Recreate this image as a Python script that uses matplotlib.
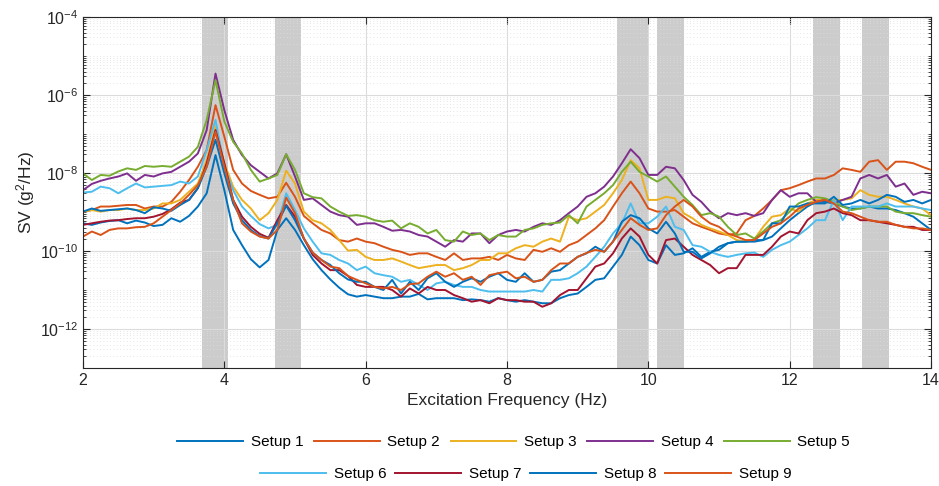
import numpy as np
import matplotlib
matplotlib.use("Agg")
import matplotlib.pyplot as plt
from matplotlib.ticker import FixedLocator, LogLocator, LogFormatterSciNotation, NullFormatter

plt.rcParams['font.family'] = ['Liberation Sans', 'DejaVu Sans']
plt.rcParams['mathtext.default'] = 'regular'

# frequency axis (Hz), 0.125 Hz steps from 2 to 14
freq = np.linspace(2, 14, 97)

# log10 of SV (g^2/Hz)
s1 = [-9.29, -9.33, -9.27, -9.23, -9.21, -9.29, -9.22, -9.27, -9.36, -9.33, -9.16, -9.25, -9.10, -8.86, -8.52, -7.54, -8.44, -9.46, -9.85, -10.21,
      -10.42, -10.23, -9.46, -9.16, -9.46, -9.85, -10.21, -10.49, -10.73, -10.94, -11.11, -11.17, -11.13, -11.17, -11.21, -11.21, -11.17, -11.17, -11.10,
      -11.24, -11.21, -11.21, -11.21, -11.26, -11.24, -11.26, -11.30, -11.21, -11.26, -11.30, -11.26, -11.30, -11.34, -11.34, -11.21, -11.13, -11.09, -10.92,
      -10.74, -10.70, -10.40, -10.10, -9.63, -9.85, -10.23, -10.32, -9.85, -10.10, -10.06, -9.93, -10.15, -10.02, -9.97, -9.80, -9.76, -9.76, -9.76,
      -9.72, -9.63, -9.42, -9.21, -9.03, -8.86, -8.74, -8.74, -8.78, -8.86, -8.91, -8.91, -8.86, -8.91, -8.91, -8.95, -9.03, -9.12, -9.29, -9.46]
s2 = [-8.99, -8.95, -8.86, -8.86, -8.84, -8.82, -8.82, -8.91, -8.86, -8.86, -8.74, -8.48, -8.18, -7.84, -7.41, -6.26, -7.07, -7.92, -8.27, -8.46,
      -8.56, -8.65, -8.61, -8.25, -8.61, -9.10, -9.29, -9.46, -9.55, -9.72, -9.76, -9.68, -9.76, -9.80, -9.89, -9.97, -10.02, -10.10, -10.06,
      -10.06, -10.15, -10.23, -10.06, -10.23, -10.19, -10.19, -10.15, -10.23, -10.10, -10.19, -10.23, -9.97, -10.02, -9.93, -10.02, -9.85, -9.76, -9.59,
      -9.42, -9.21, -8.86, -8.52, -8.22, -8.52, -8.91, -8.99, -8.99, -8.95, -9.12, -9.29, -9.38, -9.46, -9.55, -9.59, -9.55, -9.21, -9.10,
      -8.91, -8.69, -8.44, -8.39, -8.31, -8.22, -8.14, -8.14, -8.05, -7.88, -7.92, -7.97, -7.71, -7.67, -7.92, -7.71, -7.71, -7.75, -7.84, -7.92]
s3 = [-8.99, -8.95, -8.99, -8.95, -8.95, -8.91, -8.95, -8.95, -8.91, -8.78, -8.78, -8.69, -8.48, -8.27, -7.67, -6.81, -7.75, -8.35, -8.69, -8.91,
      -9.21, -9.03, -8.69, -7.94, -8.27, -8.99, -9.21, -9.29, -9.46, -9.72, -9.99, -9.97, -10.15, -10.23, -10.23, -10.19, -10.27, -10.36, -10.44,
      -10.40, -10.36, -10.36, -10.49, -10.44, -10.36, -10.23, -10.23, -10.06, -10.06, -9.93, -9.85, -9.89, -9.76, -9.68, -9.76, -9.12, -9.21, -9.16,
      -8.99, -8.82, -8.52, -8.18, -7.67, -7.88, -8.69, -8.69, -8.61, -8.65, -9.03, -9.16, -9.33, -9.42, -9.50, -9.59, -9.72, -9.76, -9.70,
      -9.38, -9.12, -9.08, -8.91, -8.99, -8.78, -8.69, -8.69, -8.69, -8.69, -8.65, -8.44, -8.56, -8.61, -8.61, -8.69, -8.78, -8.86, -8.91, -9.08]
s4 = [-8.44, -8.28, -8.20, -8.14, -8.09, -8.01, -8.20, -8.05, -8.09, -8.01, -7.97, -7.84, -7.71, -7.50, -6.90, -5.45, -6.39, -7.15, -7.54, -7.80,
      -7.97, -8.14, -8.01, -7.52, -8.09, -8.69, -8.65, -8.82, -8.99, -9.08, -9.12, -9.33, -9.29, -9.29, -9.38, -9.48, -9.46, -9.50, -9.59,
      -9.63, -9.76, -9.89, -9.72, -9.76, -9.55, -9.55, -9.80, -9.59, -9.50, -9.46, -9.50, -9.38, -9.29, -9.33, -9.21, -9.03, -8.86, -8.61,
      -8.52, -8.35, -8.09, -7.75, -7.39, -7.62, -8.05, -8.05, -7.84, -7.88, -8.18, -8.56, -8.74, -8.99, -9.16, -9.03, -9.08, -9.03, -9.10,
      -9.03, -8.69, -8.44, -8.61, -8.52, -8.52, -8.74, -8.69, -8.78, -8.69, -8.61, -8.14, -8.05, -8.14, -8.05, -8.35, -8.27, -8.56, -8.48, -8.52]
s5 = [-8.01, -8.18, -8.05, -8.07, -7.96, -7.88, -7.92, -7.82, -7.84, -7.82, -7.84, -7.71, -7.58, -7.33, -6.64, -5.62, -6.68, -7.20, -7.50, -7.92,
      -8.22, -8.14, -8.05, -7.52, -7.92, -8.52, -8.62, -8.65, -8.86, -8.99, -9.10, -9.08, -9.12, -9.21, -9.25, -9.22, -9.42, -9.29, -9.38,
      -9.55, -9.46, -9.72, -9.76, -9.50, -9.59, -9.55, -9.72, -9.59, -9.63, -9.63, -9.46, -9.42, -9.33, -9.29, -9.27, -9.08, -9.29, -8.86,
      -8.69, -8.52, -8.31, -7.97, -7.71, -7.97, -8.09, -8.22, -8.09, -8.35, -8.61, -8.82, -9.08, -9.03, -9.12, -9.38, -9.59, -9.55, -9.68,
      -9.50, -9.29, -9.21, -8.99, -8.78, -8.69, -8.62, -8.65, -8.74, -8.86, -8.95, -8.91, -8.86, -8.86, -8.86, -8.99, -9.03, -9.03, -9.08, -9.12]
s6 = [-8.50, -8.48, -8.35, -8.39, -8.52, -8.39, -8.27, -8.37, -8.35, -8.33, -8.31, -8.22, -8.27, -8.09, -7.41, -6.64, -7.84, -8.44, -8.86, -9.10,
      -9.31, -9.42, -9.33, -8.52, -8.95, -9.42, -9.76, -10.06, -10.10, -10.23, -10.32, -10.49, -10.40, -10.57, -10.62, -10.66, -10.79, -10.74, -10.87,
      -11.00, -10.83, -10.79, -10.87, -10.92, -10.92, -11.00, -11.04, -11.04, -11.04, -11.04, -11.04, -11.00, -11.04, -10.74, -10.74, -10.70, -10.57, -10.40,
      -10.15, -9.89, -9.55, -9.29, -8.78, -9.29, -9.29, -9.12, -8.86, -9.38, -9.46, -9.85, -9.89, -10.02, -10.10, -10.15, -10.10, -10.06, -10.04,
      -10.15, -9.97, -9.85, -9.76, -9.59, -9.42, -9.21, -9.21, -8.69, -9.21, -8.86, -8.86, -8.86, -8.86, -8.78, -8.86, -8.86, -8.86, -8.91, -8.95]
s7 = [-9.33, -9.29, -9.25, -9.22, -9.21, -9.18, -9.16, -9.16, -9.12, -9.05, -8.93, -8.76, -8.69, -8.39, -7.75, -6.90, -7.75, -8.69, -9.12, -9.38,
      -9.56, -9.66, -9.21, -8.82, -9.12, -9.68, -10.10, -10.32, -10.49, -10.49, -10.64, -10.87, -10.92, -10.92, -10.92, -11.00, -11.17, -10.96, -11.09,
      -10.92, -11.00, -11.00, -11.13, -11.21, -11.30, -11.26, -11.34, -11.21, -11.26, -11.26, -11.30, -11.30, -11.43, -11.34, -11.13, -11.00, -11.00, -10.70,
      -10.40, -10.32, -10.06, -9.68, -9.42, -9.63, -10.10, -10.32, -9.72, -9.68, -9.89, -10.10, -10.23, -10.36, -10.57, -10.44, -10.44, -10.10, -10.10,
      -10.10, -9.89, -9.63, -9.50, -9.55, -9.21, -9.03, -8.99, -8.91, -9.03, -9.08, -9.21, -9.21, -9.25, -9.29, -9.33, -9.38, -9.38, -9.46, -9.46]
s8 = [-8.99, -8.91, -8.97, -8.95, -8.93, -8.91, -8.95, -9.03, -8.88, -8.91, -8.97, -8.82, -8.69, -8.39, -7.84, -7.15, -8.01, -8.78, -9.21, -9.46,
      -9.62, -9.68, -9.29, -8.84, -9.21, -9.68, -10.04, -10.23, -10.36, -10.57, -10.73, -10.79, -10.79, -10.92, -11.00, -10.74, -11.09, -10.79, -11.00,
      -10.70, -10.57, -10.79, -10.92, -10.79, -10.70, -10.79, -10.66, -10.57, -10.74, -10.79, -10.57, -10.79, -10.74, -10.53, -10.49, -10.32, -10.15, -10.06,
      -9.89, -10.02, -9.76, -9.25, -9.08, -9.16, -9.42, -9.55, -9.25, -9.55, -10.02, -10.02, -10.19, -10.06, -9.89, -9.80, -9.76, -9.76, -9.72,
      -9.72, -9.29, -9.29, -8.86, -8.86, -8.78, -8.78, -8.78, -8.61, -8.82, -8.78, -8.69, -8.78, -8.69, -8.56, -8.61, -8.74, -8.69, -8.78, -8.69]
s9 = [-9.63, -9.50, -9.59, -9.46, -9.42, -9.42, -9.39, -9.38, -9.29, -9.12, -8.95, -8.78, -8.56, -8.31, -7.84, -6.94, -7.84, -8.69, -9.29, -9.50,
      -9.63, -9.68, -9.46, -8.63, -9.03, -9.68, -10.04, -10.23, -10.40, -10.44, -10.64, -10.74, -10.83, -10.92, -10.96, -10.92, -11.00, -10.85, -10.83,
      -10.66, -10.53, -10.66, -10.57, -10.74, -10.66, -10.87, -10.62, -10.57, -10.53, -10.70, -10.66, -10.79, -10.74, -10.49, -10.32, -10.32, -10.15, -10.05,
      -9.97, -10.02, -9.76, -9.46, -9.16, -9.33, -9.46, -9.42, -9.08, -8.86, -8.69, -8.86, -9.12, -9.29, -9.38, -9.55, -9.63, -9.72, -9.72,
      -9.55, -9.38, -9.29, -9.12, -8.91, -8.82, -8.74, -8.69, -8.78, -8.99, -9.03, -9.12, -9.21, -9.25, -9.25, -9.33, -9.38, -9.42, -9.42, -9.46]

series = [s1, s2, s3, s4, s5, s6, s7, s8, s9]
labels = ['Setup %d' % (k + 1) for k in range(9)]
colors = ['#0072BD', '#D95319', '#EDB120', '#7E2F8E', '#77AC30',
          '#4DBEEE', '#A2142F', '#0072BD', '#D95319']

# shaded frequency bands (Hz)
bands = [(3.69, 4.05), (4.72, 5.08), (9.56, 10.0), (10.12, 10.50), (12.33, 12.71), (13.03, 13.41)]

fig = plt.figure(figsize=(9.39, 4.86), dpi=100)
ax = fig.add_axes([0.0884, 0.2428, 0.9031, 0.7222])

for b0, b1 in bands:
    ax.axvspan(b0, b1, color='#cccccc', lw=0, zorder=1)

lines = []
for s, lab, c in zip(series, labels, colors):
    ln, = ax.plot(freq, 10 ** np.array(s), color=c, lw=1.4, label=lab, zorder=2)
    lines.append(ln)

ax.set_yscale('log')
ax.set_xlim(2, 14)
ax.set_ylim(1e-13, 1e-4)
ax.set_xticks([2, 4, 6, 8, 10, 12, 14])
ax.yaxis.set_major_locator(FixedLocator([1e-12, 1e-10, 1e-8, 1e-6, 1e-4]))
ax.yaxis.set_major_formatter(LogFormatterSciNotation())
ax.yaxis.set_minor_locator(LogLocator(base=10, subs=np.arange(1, 10), numticks=100))
ax.yaxis.set_minor_formatter(NullFormatter())

ax.grid(True, which='major', color='#dcdcdc', lw=0.8, ls='-')
ax.grid(True, which='minor', axis='y', color='#dedede', lw=0.6, ls=(0, (1, 3)))

ax.tick_params(which='both', direction='in', top=True, right=True, colors='#262626',
               labelsize=11.5)
ax.tick_params(which='major', length=5, width=0.8)
ax.tick_params(which='minor', length=2.5, width=0.6)
for sp in ax.spines.values():
    sp.set_color('#262626')
    sp.set_linewidth(0.8)

ax.set_xlabel('Excitation Frequency (Hz)', fontsize=12.5, color='#262626', labelpad=4)
ax.set_ylabel('SV (g$^2$/Hz)', fontsize=12.5, color='#262626', labelpad=2)

# two legend rows: 5 entries on top, 4 below
fig.legend(lines[:5], labels[:5], loc='center', bbox_to_anchor=(0.547, 0.09),
           ncol=5, frameon=False, fontsize=11, handlelength=4.3,
           handletextpad=0.5, columnspacing=0.7)
fig.legend(lines[5:], labels[5:], loc='center', bbox_to_anchor=(0.560, 0.025),
           ncol=4, frameon=False, fontsize=11, handlelength=4.3,
           handletextpad=0.5, columnspacing=0.6)

fig.savefig('out.png', dpi=100)
